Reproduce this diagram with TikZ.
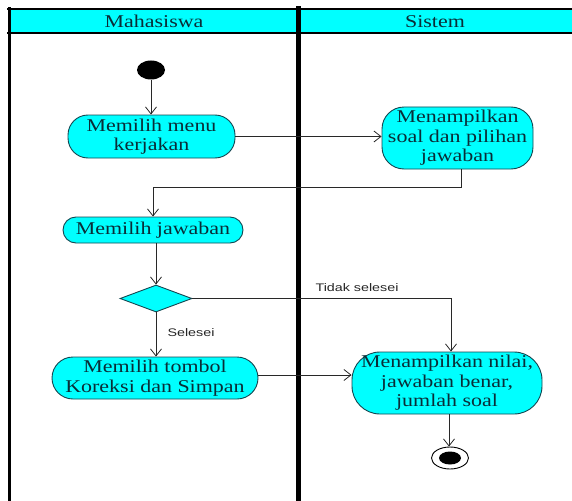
\documentclass[tikz,border=0pt]{standalone}
\usepackage{fontspec}
\setmainfont{Liberation Serif}[FakeStretch=1.22]
\newfontfamily\guardfont{Liberation Sans}[FakeStretch=1.3]
\usetikzlibrary{arrows.meta,shapes.geometric}
\definecolor{actfill}{RGB}{0,255,255}
\definecolor{actline}{RGB}{20,70,80}
\definecolor{acttext}{RGB}{10,45,55}
\definecolor{flowline}{RGB}{40,40,40}
\tikzset{
  activity/.style={draw=actline, line width=0.9pt, fill=actfill, text=acttext,
    align=center, inner sep=0pt, font=\fontsize{18}{19.5}\selectfont},
  decision/.style={diamond, draw=actline, line width=0.9pt, fill=actfill,
    inner sep=0pt, minimum width=72pt, minimum height=27pt, aspect=2.6},
  flow/.style={draw=flowline, line width=0.9pt,
    -{Straight Barb[length=7pt,width=11pt,line width=0.8pt]}},
  guard/.style={font=\guardfont\fontsize{11}{12}\selectfont, text=black!85},
  lanetitle/.style={font=\fontsize{18}{19.5}\selectfont, text=acttext},
  lanerule/.style={draw=black, line cap=rect}
}
\begin{document}
\begin{tikzpicture}[x=1pt,y=-1pt]
\useasboundingbox (0,0) rectangle (572,500);
% swimlane header and borders
\fill[actfill] (8,9) rectangle (572,33);
\draw[lanerule, line width=2pt] (8,9) -- (572,9);
\draw[lanerule, line width=2pt] (8,33) -- (572,33);
\draw[lanerule, line width=3pt] (9.5,9) -- (9.5,501);
\draw[lanerule, line width=5pt] (298,9) -- (298,501);
\node[lanetitle] (laneM) at (154,21.5) {Mahasiswa};
\node[lanetitle] (laneS) at (435,21.5) {Sistem};

% start and end nodes
\node[ellipse, fill=black, minimum width=28pt, minimum height=19pt, inner sep=0pt] (start) at (151,70) {};
\node[ellipse, draw=black, line width=0.9pt, fill=white, minimum width=37pt, minimum height=22pt, inner sep=0pt] (end) at (450,458) {};
\node[ellipse, fill=black, minimum width=22pt, minimum height=13pt, inner sep=0pt] (endin) at (450,458) {};

% activities
\node[activity, minimum width=167pt, minimum height=43pt, rounded corners=20pt] (menu) at (151.5,136.5) {Memilih menu\\kerjakan};
\node[activity, minimum width=151pt, minimum height=62pt, rounded corners=22pt] (soal) at (457.5,138) {Menampilkan\\soal dan pilihan\\jawaban};
\node[activity, minimum width=180pt, minimum height=26pt, rounded corners=13pt] (jawab) at (153,230) {Memilih jawaban};
\node[decision] (dec) at (156,298.5) {};
\node[activity, minimum width=206pt, minimum height=42pt, rounded corners=21pt] (koreksi) at (155,378) {Memilih tombol\\Koreksi dan Simpan};
\node[activity, minimum width=190pt, minimum height=62pt, rounded corners=28pt] (nilai) at (447,383) {Menampilkan nilai,\\jawaban benar,\\jumlah soal};

% flows
\coordinate (backR) at (461,187);
\coordinate (backL) at (153,187);
\draw[flow] (start) -- (start |- menu.north);
\draw[flow] (menu.east) -- (menu.east -| soal.west);
\draw[flow] ([xshift=3.5pt]soal.south) -- (backR) -- (backL) -- (jawab.north);
\draw[flow] (jawab.south -| dec.north) -- (dec.north);
\draw[flow] (dec.east) -| ([xshift=4pt]nilai.north);
\draw[flow] (dec.south) -- (dec.south |- koreksi.north);
\draw[flow] ([yshift=3pt]koreksi.east) -- ([yshift=3pt]koreksi.east -| nilai.west);
\draw[flow] ([xshift=2pt]nilai.south) -- ([xshift=2pt]nilai.south |- end.north);

% guards
\node[guard] (gdone) at (191,333) {Selesei};
\node[guard] (gnot) at (357,288) {Tidak selesei};
\end{tikzpicture}
\end{document}
